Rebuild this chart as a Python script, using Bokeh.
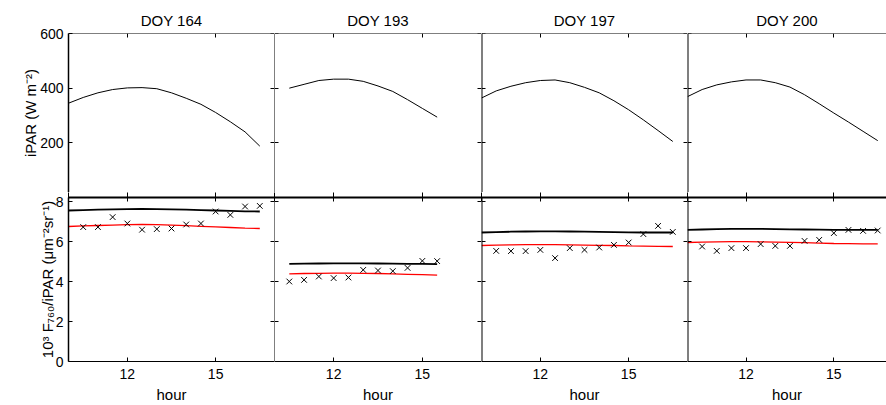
from bokeh.plotting import figure
from bokeh.layouts import column, row
from bokeh.models import LinearAxis, FixedTicker, Range1d
from bokeh.embed import file_html
from bokeh.resources import INLINE

# ---------------- data ----------------
days = ["DOY 164", "DOY 193", "DOY 197", "DOY 200"]

hour_164 = [10.0, 10.5, 11.0, 11.5, 12.0, 12.5, 13.0, 13.5, 14.0, 14.5, 15.0, 15.5, 16.0, 16.5]
ipar_164 = [345, 366, 383, 395, 401, 402, 398, 383, 363, 341, 311, 277, 240, 188]
black_164 = [7.55, 7.57, 7.59, 7.61, 7.62, 7.63, 7.62, 7.61, 7.59, 7.57, 7.55, 7.53, 7.51, 7.50]
red_164 = [6.75, 6.78, 6.80, 6.82, 6.84, 6.85, 6.84, 6.82, 6.79, 6.76, 6.73, 6.70, 6.67, 6.65]
obs_hour_164 = [10.5, 11.0, 11.5, 12.0, 12.5, 13.0, 13.5, 14.0, 14.5, 15.0, 15.5, 16.0, 16.5]
obs_164 = [6.72, 6.72, 7.22, 6.90, 6.59, 6.62, 6.65, 6.85, 6.90, 7.50, 7.33, 7.75, 7.78]

hour_193 = [10.5, 11.0, 11.5, 12.0, 12.5, 13.0, 13.5, 14.0, 14.5, 15.0, 15.5]
ipar_193 = [400, 414, 428, 433, 433, 425, 408, 388, 358, 326, 294]
black_193 = [4.88, 4.89, 4.90, 4.91, 4.91, 4.91, 4.90, 4.89, 4.88, 4.88, 4.87]
red_193 = [4.38, 4.40, 4.41, 4.42, 4.42, 4.41, 4.40, 4.38, 4.36, 4.34, 4.32]
obs_hour_193 = [10.5, 11.0, 11.5, 12.0, 12.5, 13.0, 13.5, 14.0, 14.5, 15.0, 15.5]
obs_193 = [4.00, 4.08, 4.25, 4.17, 4.20, 4.58, 4.55, 4.52, 4.68, 5.03, 5.02]

hour_197 = [10.0, 10.5, 11.0, 11.5, 12.0, 12.5, 13.0, 13.5, 14.0, 14.5, 15.0, 15.5, 16.0, 16.5]
ipar_197 = [364, 390, 407, 420, 428, 430, 420, 403, 383, 354, 321, 284, 245, 205]
black_197 = [6.45, 6.47, 6.49, 6.50, 6.51, 6.51, 6.50, 6.49, 6.48, 6.47, 6.46, 6.45, 6.45, 6.45]
red_197 = [5.80, 5.82, 5.83, 5.84, 5.84, 5.84, 5.83, 5.82, 5.81, 5.80, 5.78, 5.77, 5.76, 5.75]
obs_hour_197 = [10.5, 11.0, 11.5, 12.0, 12.5, 13.0, 13.5, 14.0, 14.5, 15.0, 15.5, 16.0, 16.5]
obs_197 = [5.53, 5.52, 5.52, 5.58, 5.17, 5.67, 5.58, 5.70, 5.83, 5.95, 6.37, 6.78, 6.48]

hour_200 = [10.0, 10.5, 11.0, 11.5, 12.0, 12.5, 13.0, 13.5, 14.0, 14.5, 15.0, 15.5, 16.0, 16.5]
ipar_200 = [369, 395, 412, 423, 430, 430, 420, 404, 376, 343, 309, 276, 242, 208]
black_200 = [6.58, 6.60, 6.62, 6.63, 6.63, 6.63, 6.62, 6.61, 6.60, 6.59, 6.58, 6.58, 6.58, 6.58]
red_200 = [5.95, 5.97, 5.98, 5.99, 5.99, 5.98, 5.97, 5.96, 5.94, 5.92, 5.90, 5.89, 5.88, 5.88]
obs_hour_200 = [10.5, 11.0, 11.5, 12.0, 12.5, 13.0, 13.5, 14.0, 14.5, 15.0, 15.5, 16.0, 16.5]
obs_200 = [5.75, 5.53, 5.67, 5.67, 5.87, 5.78, 5.78, 6.03, 6.08, 6.42, 6.58, 6.53, 6.55]

x_ticks = [12, 15]
ipar_ticks = [200, 400, 600]
ratio_ticks = [0, 2, 4, 6, 8]
ipar_label = "iPAR (W m\u207b\u00b2)"
ratio_label = "10\u00b3 F\u2087\u2086\u2080/iPAR (\u03bcm\u207b\u00b2sr\u207b\u00b9)"
x_label = "hour"

line_hours = [hour_164, hour_193, hour_197, hour_200]
ipar_series = [ipar_164, ipar_193, ipar_197, ipar_200]
black_series = [black_164, black_193, black_197, black_200]
red_series = [red_164, red_193, red_197, red_200]
obs_hours = [obs_hour_164, obs_hour_193, obs_hour_197, obs_hour_200]
obs_series = [obs_164, obs_193, obs_197, obs_200]

# ---------------- layout ----------------
FONT = "Liberation Sans"
PANEL_H = 164
STRIP = 5                      # top strip of the lower figures (room for the "8" label)
frame_w = [206, 207, 206, 199]
left_line_w = [1.5, 1, 2, 2]
x_start = 10.0
x_end = [17.0, 17.0, 17.0, 16.8]
LEFT = 68
TOP = 33
BOTTOM = 43
IPAR_MAX = 600
RATIO_MAX = 8.2
# upper frame is STRIP px shorter; keep the same scale (0..600 over PANEL_H px)
ipar_start = IPAR_MAX - (PANEL_H - STRIP) * IPAR_MAX / PANEL_H


def add_axis(p, side, ticks, loc=None, labels=False, label_text=None,
             label_standoff=6, tick_out=0, line_w=1):
    ax = LinearAxis(ticker=FixedTicker(ticks=ticks))
    ax.major_tick_in = 4
    ax.major_tick_out = tick_out
    ax.minor_tick_line_color = None
    ax.axis_line_color = "black"
    ax.axis_line_width = line_w
    ax.major_tick_line_color = "black"
    ax.major_label_text_font = FONT
    ax.major_label_text_color = "black"
    if labels:
        ax.major_label_text_font_size = "14px"
        ax.major_label_standoff = 5 if side == "left" else 7
    else:
        ax.major_label_text_font_size = "0px"
        ax.major_label_overrides = {t: "" for t in ticks}
        ax.major_label_standoff = 0
    if label_text:
        ax.axis_label = label_text
        ax.axis_label_text_font = FONT
        ax.axis_label_text_font_size = "15px"
        ax.axis_label_text_font_style = "normal"
        ax.axis_label_text_color = "black"
        ax.axis_label_standoff = label_standoff
    if loc is not None:
        ax.fixed_location = loc
    p.add_layout(ax, side)
    return ax


def new_fig(col, frame_h, y_range, top, bottom):
    p = figure(
        frame_width=frame_w[col], frame_height=frame_h,
        x_range=Range1d(x_start, x_end[col]), y_range=y_range,
        x_axis_location=None, y_axis_location=None,
        output_backend="svg", toolbar_location=None,
        min_border_left=LEFT if col == 0 else 0,
        min_border_right=0, min_border_top=top, min_border_bottom=bottom,
        outline_line_color=None,
        background_fill_color="white", border_fill_color="white",
    )
    p.grid.visible = False
    return p


top_row, bottom_row = [], []
for col in range(4):
    first = col == 0
    edge_ticks = [x_start, x_end[col]] if col < 3 else [x_start]

    # ---- upper panel: iPAR ----
    p = new_fig(col, PANEL_H - STRIP, Range1d(ipar_start, IPAR_MAX), TOP, 0)
    if first:
        add_axis(p, "left", ipar_ticks, labels=True, label_text=ipar_label,
                 label_standoff=-2, line_w=left_line_w[col])
    else:
        add_axis(p, "left", ipar_ticks, loc=x_start, line_w=left_line_w[col])
    if col < 3:
        add_axis(p, "right", ipar_ticks, loc=x_end[col])
    add_axis(p, "above", x_ticks, loc=IPAR_MAX)
    p.title.text = days[col]
    p.title.align = "center"
    p.title.text_font = FONT
    p.title.text_font_size = "15px"
    p.title.text_font_style = "normal"
    p.title.text_color = "black"
    p.line(line_hours[col], ipar_series[col], line_color="black", line_width=1)
    top_row.append(p)

    # ---- lower panel: 10^3 F760 / iPAR ----
    q = new_fig(col, PANEL_H, Range1d(0, RATIO_MAX), STRIP, BOTTOM)
    if first:
        add_axis(q, "left", ratio_ticks, labels=True, label_text=ratio_label,
                 label_standoff=-3, line_w=left_line_w[col])
    else:
        add_axis(q, "left", ratio_ticks, loc=x_start, line_w=left_line_w[col])
    if col < 3:
        add_axis(q, "right", ratio_ticks, loc=x_end[col])
    add_axis(q, "below", x_ticks, labels=True, label_text=x_label, label_standoff=4)
    # divider between the rows: ticks reach up into the strip / upper panel
    add_axis(q, "above", edge_ticks + x_ticks, tick_out=STRIP, line_w=2)
    q.line(line_hours[col], black_series[col], line_color="black", line_width=1.8)
    q.line(line_hours[col], red_series[col], line_color="#ff0000", line_width=1.3)
    q.scatter(obs_hours[col], obs_series[col], marker="x", size=8,
              line_color="black", line_width=1)
    bottom_row.append(q)

layout = column(row(*top_row, spacing=0), row(*bottom_row, spacing=0), spacing=0)

open("out.html", "w").write(file_html(layout, INLINE))
